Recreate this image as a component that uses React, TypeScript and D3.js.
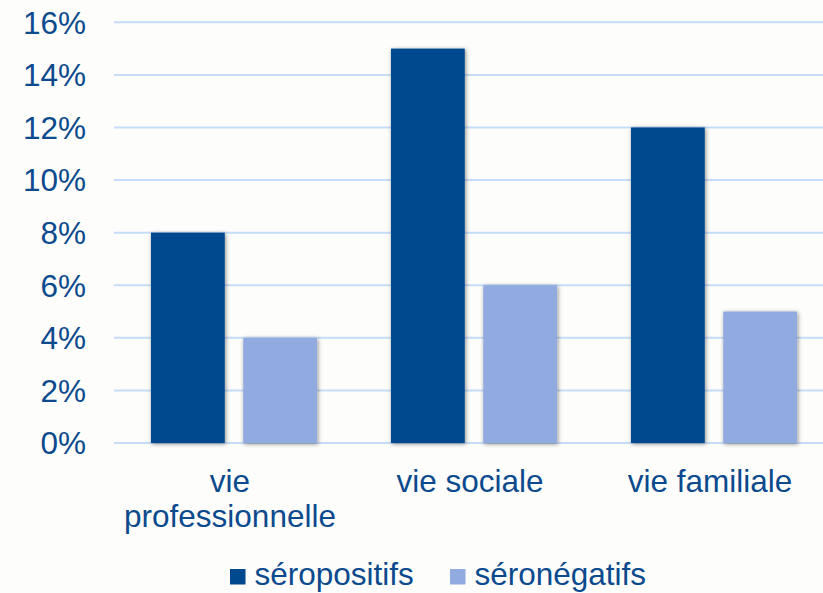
import React, { useEffect, useRef } from 'react'
import * as d3 from 'd3'

// chart data
const categories = [['vie', 'professionnelle'], ['vie sociale'], ['vie familiale']]
const seriesNames = ['séropositifs', 'séronégatifs']
const seropositifs = [8, 15, 12]
const seronegatifs = [4, 6, 5]
const yTicks = [0, 2, 4, 6, 8, 10, 12, 14, 16]

const colors = ['#00498F', '#91ABE0']
const textColor = '#0C4A8E'
const W = 823
const H = 593

export default function App() {
  const ref = useRef<SVGSVGElement>(null)

  useEffect(() => {
    const svg = d3.select(ref.current)
    svg.selectAll('*').remove()

    const left = 114
    const right = 834
    const top = 22.3
    const bottom = 443
    const font = '"Liberation Sans", Arial, sans-serif'
    const fs = 31.5

    const catKeys = categories.map(c => c.join(' '))
    const data = catKeys.map((k, i) => ({ cat: k, values: [seropositifs[i], seronegatifs[i]] }))

    const x0 = d3.scaleBand().domain(catKeys).range([left, right])
      .paddingInner(0.308).paddingOuter(0.154)
    const x1 = d3.scaleBand().domain(seriesNames).range([0, x0.bandwidth()]).paddingInner(0.2)
    const y = d3.scaleLinear().domain([0, 16]).range([bottom, top])

    svg.append('rect').attr('width', W).attr('height', H).attr('fill', '#FDFDFB')

    const defs = svg.append('defs')
    defs.append('filter').attr('id', 'shadow')
      .attr('x', '-20%').attr('y', '-10%').attr('width', '140%').attr('height', '120%')
      .append('feDropShadow')
      .attr('dx', 1).attr('dy', 1).attr('stdDeviation', 2.2)
      .attr('flood-color', '#000').attr('flood-opacity', 0.45)

    // gridlines
    svg.append('g').selectAll('line').data(yTicks).enter().append('line')
      .attr('x1', left).attr('x2', W)
      .attr('y1', d => y(d)).attr('y2', d => y(d))
      .attr('stroke', '#C5DDF8').attr('stroke-width', 2)

    // y labels
    svg.append('g').selectAll('text').data(yTicks).enter().append('text')
      .attr('x', 86).attr('y', d => y(d)).attr('dy', '0.36em')
      .attr('text-anchor', 'end').attr('font-family', font).attr('font-size', fs)
      .attr('fill', textColor).text(d => d + '%')

    // bars
    svg.append('g').selectAll('g').data(data).enter().append('g')
      .attr('transform', d => 'translate(' + x0(d.cat) + ',0)')
      .selectAll('rect')
      .data(d => d.values.map((v, i) => ({ key: seriesNames[i], value: v, i })))
      .enter().append('rect')
      .attr('x', d => x1(d.key)!)
      .attr('y', d => y(d.value))
      .attr('width', x1.bandwidth())
      .attr('height', d => y(0) - y(d.value))
      .attr('fill', d => colors[d.i])
      .attr('filter', 'url(#shadow)')

    // category labels
    const cl = svg.append('g').selectAll('text').data(categories).enter().append('text')
      .attr('x', d => x0(d.join(' '))! + x0.bandwidth() / 2 - 4)
      .attr('y', 492)
      .attr('text-anchor', 'middle').attr('font-family', font).attr('font-size', fs)
      .attr('fill', textColor)
    cl.selectAll('tspan').data(d => d).enter().append('tspan')
      .attr('x', function () { return d3.select(this.parentNode as SVGTextElement).attr('x') })
      .attr('dy', (d, i) => (i === 0 ? 0 : 35))
      .text(d => d)

    // legend
    const legendX = [230, 450]
    const lg = svg.append('g').selectAll('g').data(seriesNames).enter().append('g')
      .attr('transform', (d, i) => 'translate(' + legendX[i] + ',569)')
    lg.append('rect').attr('width', 15.5).attr('height', 15.5)
      .attr('fill', (d, i) => colors[i])
    lg.append('text').attr('x', 24.5).attr('y', 16)
      .attr('font-family', font).attr('font-size', fs).attr('fill', textColor)
      .text(d => d)
  }, [])

  return (
    <div style={{ position: 'fixed', left: 0, top: 0 }}>
      <svg ref={ref} width={W} height={H} style={{ display: 'block' }}></svg>
    </div>
  )
}
